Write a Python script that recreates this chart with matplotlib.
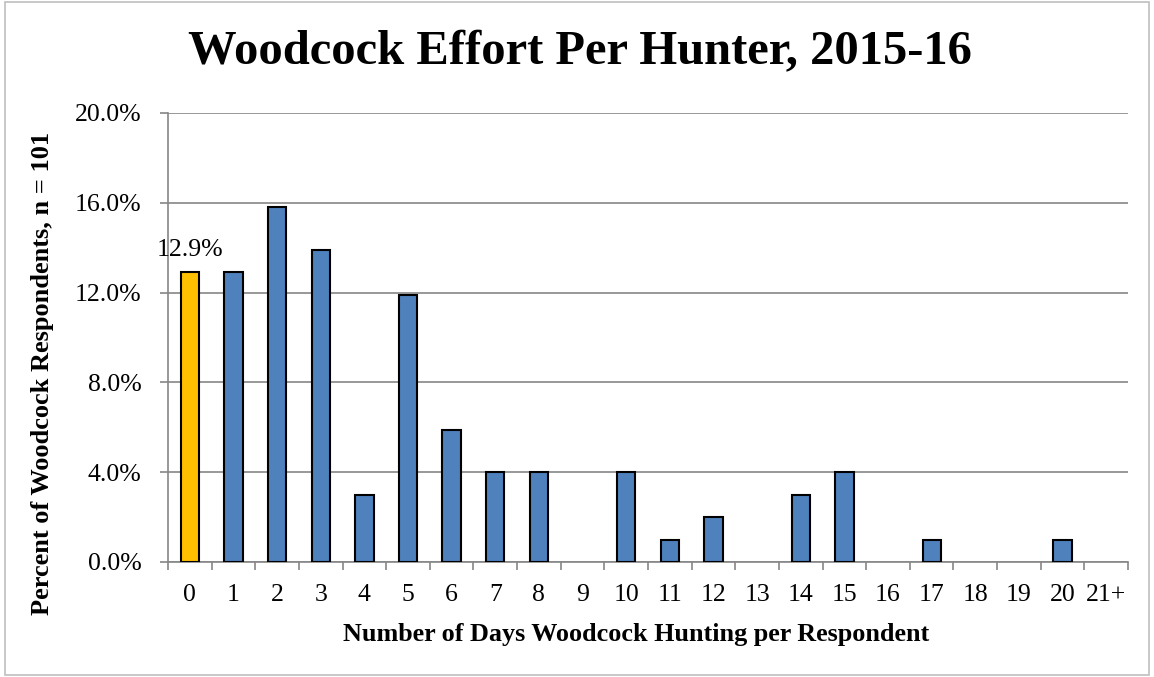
import matplotlib.pyplot as plt
import numpy as np

plt.rcParams['font.family'] = ['Liberation Serif', 'DejaVu Serif']

days = ["0", "1", "2", "3", "4", "5", "6", "7", "8", "9", "10", "11",
        "12", "13", "14", "15", "16", "17", "18", "19", "20", "21+"]
percent = [12.9, 12.9, 15.8, 13.9, 3.0, 11.9, 5.9, 4.0, 4.0, 0.0, 4.0, 1.0,
           2.0, 0.0, 3.0, 4.0, 0.0, 1.0, 0.0, 0.0, 1.0, 0.0]
y_ticks = [0, 4, 8, 12, 16, 20]

grid_col = "#868686"
fig = plt.figure(figsize=(11.54, 6.77), dpi=100)
ax = fig.add_axes([0.1456, 0.1699, 0.8319, 0.6632])

x = np.arange(len(days))
vals = np.array(percent)
colors = ["#FFC000"] + ["#4F81BD"] * (len(days) - 1)
nz = vals > 0
ax.bar(x[nz], vals[nz], width=0.42, color=np.array(colors)[nz], edgecolor="black",
       linewidth=1.5, zorder=3)

# only the first bar carries a data label
ax.text(x[0], percent[0] + 1.0, f"{percent[0]:.1f}%", ha="center", va="center", fontsize=18.5)

ax.set_xlim(-0.5, len(days) - 0.5)
ax.set_ylim(0, 20)
ax.set_yticks(y_ticks)
ax.set_yticklabels([f"{v:.1f}%" for v in y_ticks], fontsize=18.5)
ax.yaxis.grid(True, color=grid_col, linewidth=1.2, zorder=0)

ax.set_xticks(x)
ax.set_xticklabels(days, fontsize=18.5)
ax.set_xticks(np.arange(-0.5, len(days)), minor=True)
ax.tick_params(axis="x", which="major", length=0, pad=16)
ax.tick_params(axis="x", which="minor", length=6, color=grid_col, width=1.2)
ax.tick_params(axis="y", length=6, color=grid_col, width=1.2, pad=13)

for side in ["top", "right"]:
    ax.spines[side].set_visible(False)
for side in ["left", "bottom"]:
    ax.spines[side].set_color(grid_col)
    ax.spines[side].set_linewidth(1.2)

ax.set_xlabel("Number of Days Woodcock Hunting per Respondent", fontsize=18.8,
              fontweight="bold")
ax.xaxis.set_label_coords(0.4875, -0.135)
ax.set_ylabel("Percent of Woodcock Respondents, n = 101", fontsize=19,
              fontweight="bold")
ax.yaxis.set_label_coords(-0.119, 0.42)
fig.suptitle("Woodcock Effort Per Hunter, 2015-16", fontsize=35,
             fontweight="bold", x=0.5026, y=0.955)

border = plt.Rectangle((0.004, 0.003), 0.992, 0.994, transform=fig.transFigure,
                       fill=False, edgecolor="#BFBFBF", linewidth=1.2)
fig.patches.append(border)

fig.savefig("out.png", dpi=100)
